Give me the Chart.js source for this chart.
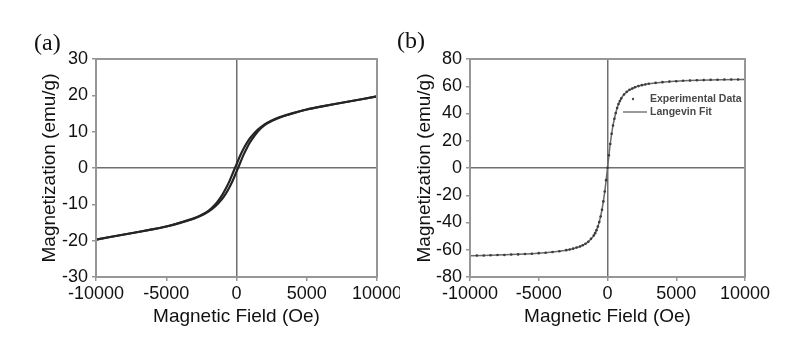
<!DOCTYPE html>
<html>
<head>
<meta charset="utf-8">
<script src="https://cdn.jsdelivr.net/npm/chart.js@4.4.1/dist/chart.umd.min.js"></script>
<style>
  html, body { margin: 0; padding: 0; background: #ffffff; }
  #wrap { position: relative; width: 810px; height: 358px; overflow: hidden; background: #fff; }
  .panel { position: absolute; top: 0; height: 358px; }
  .plabel { position: absolute; font-family: "Liberation Serif", "Times New Roman", serif; font-size: 24px; line-height: 24px; color: #111; }
</style>
</head>
<body>
<div id="wrap">
  <div class="panel" style="left:0;width:400px;"><canvas id="ca" width="400" height="358"></canvas></div>
  <div class="panel" style="left:400px;width:410px;"><canvas id="cb" width="410" height="358"></canvas></div>
  <div class="plabel" id="la" style="left:34px;top:30px;"></div>
  <div class="plabel" id="lb" style="left:397px;top:28px;"></div>
</div>
<script>
// ---------- data ----------
const panelLabels = ['(a)', '(b)'];
const xTitle = 'Magnetic Field (Oe)';
const yTitle = 'Magnetization (emu/g)';
const xTickValues = [-10000, -5000, 0, 5000, 10000];
const yTickValuesA = [-30, -20, -10, 0, 10, 20, 30];
const yTickValuesB = [-80, -60, -40, -20, 0, 20, 40, 60, 80];

// (a) hysteresis loop: descending branch
const aDescField = [10000, 8000, 6000, 5000, 4000, 3000, 2500, 2000, 1500, 1000, 750, 500, 250, 0, -250, -500, -750, -1000, -1500, -2000, -2500, -3000, -4000, -5000, -6000, -8000, -10000];
const aDescMag   = [19.7, 18.3, 16.9, 16.1, 15.1, 13.9, 13.1, 12.0, 10.5, 8.4, 7.0, 5.3, 3.3, 1.0, -1.3, -3.6, -5.6, -7.3, -10.0, -11.8, -12.9, -13.8, -15.0, -16.1, -16.9, -18.3, -19.7];
// (a) hysteresis loop: ascending branch
const aAscField  = [-10000, -8000, -6000, -5000, -4000, -3000, -2500, -2000, -1500, -1000, -750, -500, -250, 0, 250, 500, 750, 1000, 1500, 2000, 2500, 3000, 4000, 5000, 6000, 8000, 10000];
const aAscMag    = [-19.7, -18.3, -16.9, -16.1, -15.1, -13.9, -13.1, -12.0, -10.5, -8.4, -7.0, -5.3, -3.3, -1.0, 1.3, 3.6, 5.6, 7.3, 10.0, 11.8, 12.9, 13.8, 15.0, 16.1, 16.9, 18.3, 19.7];

// (b) experimental data
const bExpField = [-10000, -9500, -9000, -8500, -8000, -7500, -7000, -6500, -6000, -5500, -5000, -4500, -4000, -3500, -3000, -2750, -2500, -2250, -2000, -1800, -1600, -1400, -1200, -1000, -900, -800, -700, -600, -500, -400, -300, -200, -100, 0, 100, 200, 300, 400, 500, 600, 700, 800, 900, 1000, 1200, 1400, 1600, 1800, 2000, 2250, 2500, 2750, 3000, 3500, 4000, 4500, 5000, 5500, 6000, 6500, 7000, 7500, 8000, 8500, 9000, 9500, 10000];
const bExpMag   = [-64.3, -64.2, -64.2, -64.0, -63.9, -63.8, -63.5, -63.4, -63.1, -62.9, -62.5, -62.2, -61.7, -61.1, -60.3, -59.8, -59.2, -58.4, -57.6, -56.7, -55.6, -54.1, -52.0, -49.6, -47.8, -45.6, -43.0, -39.7, -35.6, -30.6, -24.5, -17.3, -8.9, 0.2, 9.4, 17.6, 25.1, 31.2, 36.1, 40.4, 44.0, 46.9, 49.1, 51.1, 53.9, 55.9, 57.4, 58.4, 59.3, 60.1, 60.8, 61.3, 61.8, 62.5, 63.0, 63.4, 63.7, 64.0, 64.2, 64.4, 64.5, 64.7, 64.8, 64.9, 64.9, 65.0, 65.1];
// (b) Langevin fit
const bFitField = [-10000, -8000, -6000, -5000, -4000, -3000, -2500, -2000, -1500, -1200, -1000, -800, -600, -400, -200, 0, 200, 400, 600, 800, 1000, 1200, 1500, 2000, 2500, 3000, 4000, 5000, 6000, 8000, 10000];
const bFitMag   = [-64.4, -63.9, -63.1, -62.5, -61.7, -60.3, -59.2, -57.6, -55.0, -52.0, -49.6, -45.6, -39.7, -30.6, -17.3, 0.0, 17.6, 31.2, 40.4, 46.9, 51.1, 53.9, 56.6, 59.3, 60.8, 61.8, 63.0, 63.7, 64.2, 64.8, 65.0];
const bSeriesNames = ['Experimental Data', 'Langevin Fit'];

// ---------- helpers ----------
const pts = (xs, ys) => xs.map((x, i) => ({ x: x, y: ys[i] }));
const FONT = '"Liberation Sans", Arial, sans-serif';
Chart.defaults.font.family = FONT;
Chart.defaults.color = '#111';

document.getElementById('la').textContent = panelLabels[0];
document.getElementById('lb').textContent = panelLabels[1];

const framePlugin = {
  id: 'frame',
  afterDraw(chart) {
    const { ctx, chartArea: a } = chart;
    ctx.save();
    ctx.strokeStyle = '#969696';
    ctx.lineWidth = 2;
    ctx.strokeRect(a.left, a.top, a.right - a.left, a.bottom - a.top);
    ctx.restore();
  }
};

const legendPlugin = {
  id: 'innerLegend',
  afterDraw(chart, args, opts) {
    if (!opts || !opts.show) return;
    const { ctx } = chart;
    const ds = chart.data.datasets;
    ctx.save();
    ctx.font = 'bold 10.5px ' + FONT;
    ctx.fillStyle = '#4a4a4a';
    ctx.textBaseline = 'middle';
    ctx.textAlign = 'left';
    ctx.beginPath();
    ctx.arc(opts.x - 17, opts.y1, 1.2, 0, Math.PI * 2);
    ctx.fill();
    ctx.fillText(ds[0].label, opts.x, opts.y1);
    ctx.strokeStyle = '#7a7a7a';
    ctx.lineWidth = 1.5;
    ctx.beginPath();
    ctx.moveTo(opts.x - 27, opts.y2);
    ctx.lineTo(opts.x - 3, opts.y2);
    ctx.stroke();
    ctx.fillText(ds[1].label, opts.x, opts.y2);
    ctx.restore();
  }
};

function makeOptions(cfg) {
  return {
    responsive: false,
    animation: false,
    devicePixelRatio: 1,
    layout: { padding: { top: cfg.top, right: cfg.right, bottom: 0, left: 0 } },
    plugins: {
      legend: { display: false },
      tooltip: { enabled: false },
      innerLegend: cfg.legend || { show: false }
    },
    scales: {
      x: {
        type: 'linear',
        min: -10000, max: 10000,
        afterBuildTicks: s => { s.ticks = xTickValues.map(v => ({ value: v })); },
        afterFit: s => { s.height = 81; s.paddingLeft = 0; s.paddingRight = 0; },
        ticks: { callback: v => String(v), font: { size: 18 }, color: '#111', padding: 2, maxRotation: 0, autoSkip: false },
        grid: {
          color: c => (c.tick && c.tick.value === 0) ? '#6f6f6f' : 'rgba(0,0,0,0)',
          lineWidth: 1.5,
          tickColor: '#969696', tickLength: 4, tickWidth: 1.5
        },
        border: { display: false },
        title: { display: true, text: xTitle, font: { size: 19 }, color: '#111', padding: { top: 0, bottom: 29.6 } }
      },
      y: {
        type: 'linear',
        min: cfg.ymin, max: cfg.ymax,
        afterBuildTicks: s => { s.ticks = cfg.yticks.map(v => ({ value: v })); },
        afterFit: s => { s.width = cfg.yw; s.paddingTop = 0; s.paddingBottom = 0; },
        ticks: { callback: v => String(v), font: { size: 18 }, color: '#111', padding: 4, autoSkip: false },
        grid: {
          color: c => (c.tick && c.tick.value === 0) ? '#6f6f6f' : 'rgba(0,0,0,0)',
          lineWidth: 1.5,
          tickColor: '#969696', tickLength: 4, tickWidth: 1.5
        },
        border: { display: false },
        title: { display: true, text: yTitle, font: { size: 19 }, color: '#111', padding: { top: cfg.ytp, bottom: 0 } }
      }
    }
  };
}

new Chart(document.getElementById('ca'), {
  type: 'scatter',
  data: {
    datasets: [
      { label: 'descending', data: pts(aDescField, aDescMag), showLine: true, borderColor: '#252525', borderWidth: 2.2, pointRadius: 0, tension: 0.3 },
      { label: 'ascending', data: pts(aAscField, aAscMag), showLine: true, borderColor: '#252525', borderWidth: 2.2, pointRadius: 0, tension: 0.3 }
    ]
  },
  options: makeOptions({ top: 59, right: 23, ymin: -30, ymax: 30, yticks: yTickValuesA, yw: 96, ytp: 38.6 }),
  plugins: [framePlugin, legendPlugin]
});

new Chart(document.getElementById('cb'), {
  type: 'scatter',
  data: {
    datasets: [
      { label: bSeriesNames[0], data: pts(bExpField, bExpMag), showLine: false, pointRadius: 1.3, pointBorderWidth: 0, pointBackgroundColor: '#3c3c3c', borderColor: '#3c3c3c' },
      { label: bSeriesNames[1], data: pts(bFitField, bFitMag), showLine: true, borderColor: '#6a6a6a', borderWidth: 1.5, pointRadius: 0, tension: 0.35 }
    ]
  },
  options: makeOptions({ top: 59, right: 65, ymin: -80, ymax: 80, yticks: yTickValuesB, yw: 70, ytp: 13.6,
    legend: { show: true, x: 250, y1: 99, y2: 112 } }),
  plugins: [framePlugin, legendPlugin]
});
</script>
</body>
</html>
